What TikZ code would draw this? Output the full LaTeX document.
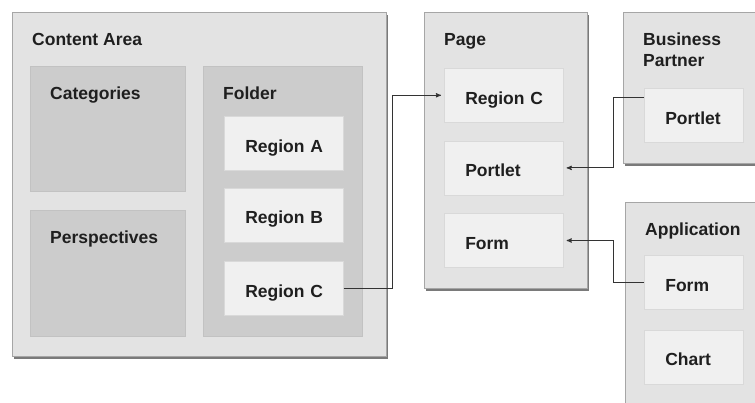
\documentclass[tikz,border=0pt]{standalone}
\usepackage{fontspec}
\setmainfont{Liberation Sans}
\usetikzlibrary{arrows,positioning,shadows,calc}

\begin{document}
\begin{tikzpicture}[x=1pt,y=-1pt,font=\fontsize{17.5}{21}\selectfont\bfseries, text=black!88,
	pane/.style={anchor=north west, inner sep=0pt, draw=black!35, fill=black!11, line width=0.8pt,
		drop shadow={shadow xshift=1.2pt, shadow yshift=-2.6pt, fill=black!65, opacity=0.8}},
	group/.style={anchor=north west, inner sep=0pt, draw=black!24, fill=black!20, line width=0.6pt},
	region/.style={draw=black!15, fill=black!6, line width=0.6pt, inner sep=0pt,
		text width=#1, align=left, minimum height=54pt, text height=18pt, text depth=0pt,
		execute at begin node=\hspace*{21pt}},
	region/.default=119pt,
	title/.style={anchor=north west, inner sep=0pt, align=left},
	link/.style={->, >=stealth', shorten >=3pt, draw=black!80, line width=0.9pt},
	node distance=21pt and 20pt]
	\useasboundingbox (0,0) rectangle (755,402);
	\clip (0,0) rectangle (755,402);

	% content area
	\node[pane, minimum width=374pt, minimum height=344pt] (area) at (12,12) {};
	\node[title] (areaTitle) [below right=of area.north west] {Content Area};
	\node[group, minimum width=155pt, minimum height=125pt] (cats) at (30,66) {};
	\node[title] (catsTitle) [below right=of cats.north west] {Categories};
	\node[group, minimum width=155pt, minimum height=126pt] (persp) at (30,210) {};
	\node[title] (perspTitle) [below right=of persp.north west] {Perspectives};
	\node[group, minimum width=159pt, minimum height=270pt] (folder) at (203,66) {};
	\node[title] (folderTitle) [below right=of folder.north west] {Folder};
	\node[region, anchor=north west] (regA) at (224,116) {Region A};
	\node[region] (regB) [below=17pt of regA] {Region B};
	\node[region] (regC) [below=19pt of regB] {Region C};

	% page
	\node[pane, minimum width=163pt, minimum height=276pt] (page) at (424,12) {};
	\node[title] (pageTitle) [below right=of page.north west] {Page};
	\node[region, anchor=north west] (pRegC) at (444,68) {Region C};
	\node[region] (pPortlet) [below=18pt of pRegC] {Portlet};
	\node[region] (pForm) [below=18pt of pPortlet] {Form};

	% business partner
	\node[pane, minimum width=150pt, minimum height=151pt] (partner) at (623,12) {};
	\node[title] (partnerTitle) [below right=of partner.north west] {Business\\Partner};
	\node[region=99pt, anchor=north west] (bPortlet) at (644,88) {Portlet};

	% application
	\node[pane, minimum width=150pt, minimum height=220pt] (app) at (625,202) {};
	\node[title] (appTitle) [below right=of app.north west] {Application};
	\node[region=99pt, anchor=north west] (aForm) at (644,255) {Form};
	\node[region=99pt] (chart) [below=20pt of aForm] {Chart};

	\draw[link] (regC.east) -- ++(49,0) |- (pRegC.west);
	\draw[link] ($(bPortlet.north west)+(0,9)$) -- ++(-31,0) |- (pPortlet.east);
	\draw[link] (aForm.west) -- ++(-31,0) |- (pForm.east);
\end{tikzpicture}
\end{document}
